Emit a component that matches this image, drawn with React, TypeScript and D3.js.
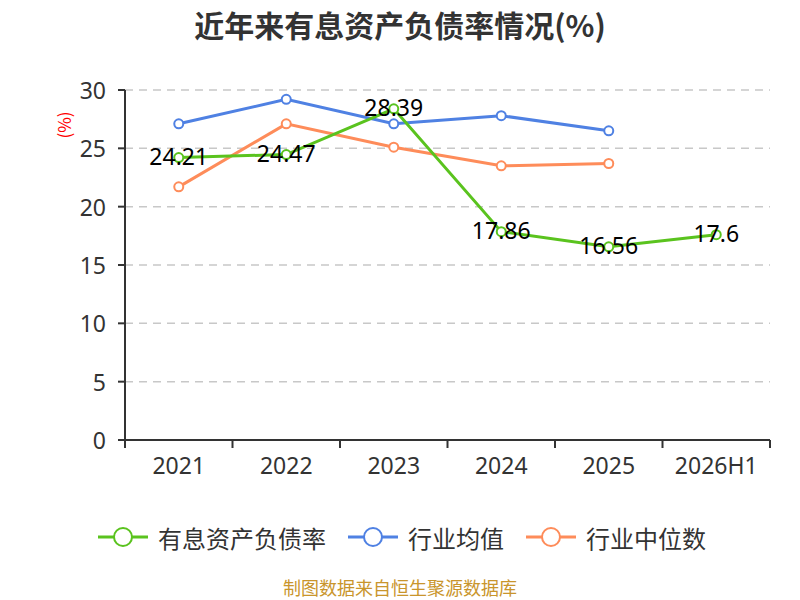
import React from 'react';
import * as d3 from 'd3';

const categories = ['2021', '2022', '2023', '2024', '2025', '2026H1'];
const debtRatio = [24.21, 24.47, 28.39, 17.86, 16.56, 17.6];
const industryMean = [27.1, 29.2, 27.1, 27.8, 26.5];
const industryMedian = [21.7, 27.1, 25.1, 23.5, 23.7];
const yTicks = [0, 5, 10, 15, 20, 25, 30];

const seriesNames = ['有息资产负债率', '行业均值', '行业中位数'];
const colors = ['#5ac31e', '#4f81e3', '#fe8c5a'];

const FONT = '"Noto Sans CJK SC", "Noto Sans", sans-serif';
const NUM_FONT = '"Noto Sans", "Noto Sans CJK SC", sans-serif';

export default function App() {
  const width = 800;
  const height = 600;
  const margin = { top: 90, right: 30, bottom: 160, left: 125 };

  const x = d3
    .scaleBand<string>()
    .domain(categories)
    .range([margin.left, width - margin.right]);
  const y = d3.scaleLinear().domain([0, 30]).range([height - margin.bottom, margin.top]);
  const cx = (i: number) => (x(categories[i]) as number) + x.bandwidth() / 2;

  const line = d3
    .line<number>()
    .x((_, i) => cx(i))
    .y((d) => y(d));

  const series = [debtRatio, industryMean, industryMedian];
  const x0 = margin.left;
  const x1 = width - margin.right;
  const yBase = y(0);

  // legend item left edges
  const legendX = [98, 348, 526];
  const legendY = 537;

  return (
    <svg
      width={width}
      height={height}
      style={{ position: 'absolute', left: 0, top: 0, background: '#fff' }}
      fontFamily={FONT}
    >
      {/* title */}
      <text
        x={400}
        y={24}
        textAnchor="middle"
        dominantBaseline="central"
        fontSize={30}
        fontWeight="bold"
        fill="#333"
      >
        近年来有息资产负债率情况(%)
      </text>

      {/* y label */}
      <text
        transform={`translate(63,125) rotate(-90)`}
        textAnchor="middle"
        dominantBaseline="central"
        fontSize={17}
        fill="#ff0000"
      >
        (%)
      </text>

      {/* grid */}
      {yTicks
        .filter((t) => t !== 0)
        .map((t) => (
          <line
            key={'g' + t}
            x1={x0}
            x2={x1}
            y1={y(t)}
            y2={y(t)}
            stroke="#c8c8c8"
            strokeWidth={1.5}
            strokeDasharray="8,6"
          />
        ))}

      {/* y axis */}
      <line x1={x0} x2={x0} y1={y(30)} y2={yBase} stroke="#333" strokeWidth={2} />
      {yTicks.map((t) => (
        <g key={'y' + t}>
          <line x1={x0 - 7} x2={x0} y1={y(t)} y2={y(t)} stroke="#333" strokeWidth={2} />
          <text
            x={x0 - 19}
            y={y(t)}
            textAnchor="end"
            dominantBaseline="central"
            fontSize={23}
            fontFamily={NUM_FONT}
            fill="#333"
          >
            {t}
          </text>
        </g>
      ))}

      {/* x axis */}
      <line x1={x0} x2={x1} y1={yBase} y2={yBase} stroke="#333" strokeWidth={2} />
      {[...categories.map((c) => x(c) as number), x1].map((px, i) => (
        <line key={'xt' + i} x1={px} x2={px} y1={yBase} y2={yBase + 8} stroke="#333" strokeWidth={2} />
      ))}
      {categories.map((c, i) => (
        <text
          key={'xl' + c}
          x={cx(i)}
          y={yBase + 25}
          textAnchor="middle"
          dominantBaseline="central"
          fontSize={23}
          fontFamily={NUM_FONT}
          fill="#333"
        >
          {c}
        </text>
      ))}

      {/* lines, drawn back to front */}
      {[2, 1, 0].map((s) => (
        <g key={'s' + s}>
          <path d={line(series[s]) || ''} fill="none" stroke={colors[s]} strokeWidth={3} />
          {series[s].map((v, i) => (
            <circle
              key={i}
              cx={cx(i)}
              cy={y(v)}
              r={4.5}
              fill="#fff"
              stroke={colors[s]}
              strokeWidth={2}
            />
          ))}
        </g>
      ))}

      {/* data labels */}
      {debtRatio.map((v, i) => (
        <text
          key={'dl' + i}
          x={cx(i)}
          y={y(v) - 2}
          textAnchor="middle"
          dominantBaseline="central"
          fontSize={23}
          fontFamily={NUM_FONT}
          fill="#000"
        >
          {v}
        </text>
      ))}

      {/* legend */}
      {seriesNames.map((n, i) => (
        <g key={'lg' + n}>
          <line
            x1={legendX[i]}
            x2={legendX[i] + 50}
            y1={legendY}
            y2={legendY}
            stroke={colors[i]}
            strokeWidth={3}
          />
          <circle
            cx={legendX[i] + 25}
            cy={legendY}
            r={9}
            fill="#fff"
            stroke={colors[i]}
            strokeWidth={2}
          />
          <text
            x={legendX[i] + 60}
            y={legendY}
            dominantBaseline="central"
            fontSize={24}
            fill="#333"
          >
            {n}
          </text>
        </g>
      ))}

      {/* source */}
      <text
        x={400}
        y={587}
        textAnchor="middle"
        dominantBaseline="central"
        fontSize={18}
        fill="#c9952c"
      >
        制图数据来自恒生聚源数据库
      </text>
    </svg>
  );
}
